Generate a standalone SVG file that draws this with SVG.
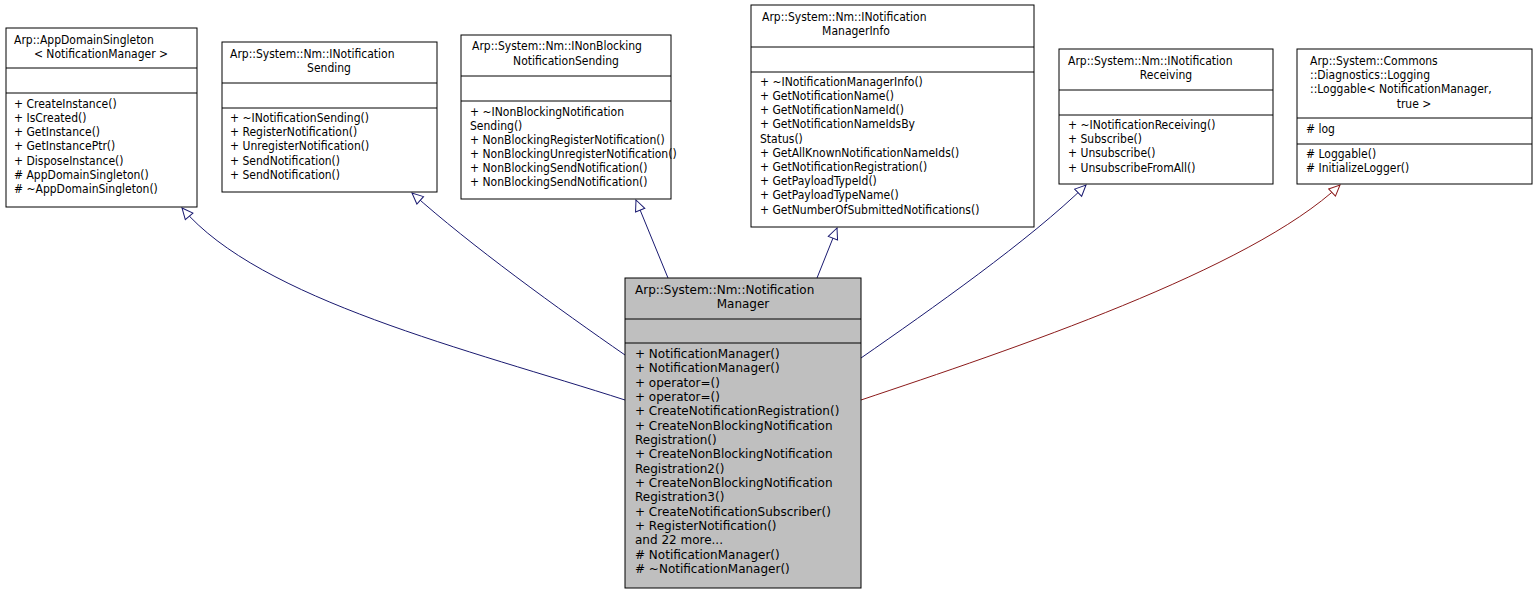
<svg xmlns="http://www.w3.org/2000/svg" width="1538" height="595" viewBox="0 0 1538 595">
<style>
text{font-family:"DejaVu Sans Condensed","DejaVu Sans",sans-serif;font-stretch:condensed;font-size:12px;fill:#000}
#main text{font-family:"DejaVu Sans",sans-serif;font-stretch:normal;font-size:12px}
.b{fill:#fff;stroke:#000;stroke-width:1}
.m{fill:#bfbfbf;stroke:#000;stroke-width:1}
.l{stroke:#000;stroke-width:1}
.c{text-anchor:middle}
.e{fill:none;stroke:#191970;stroke-width:1}
.r{fill:none;stroke:#8b1a1a;stroke-width:1}
</style>
<defs>
<marker id="ab" markerWidth="14" markerHeight="14" refX="12" refY="6" orient="auto" markerUnits="userSpaceOnUse"><path d="M1,1 L12,6 L1,11 Z" fill="#fff" stroke="#191970"/></marker>
<marker id="ar" markerWidth="14" markerHeight="14" refX="12" refY="6" orient="auto" markerUnits="userSpaceOnUse"><path d="M1,1 L12,6 L1,11 Z" fill="#fff" stroke="#8b1a1a"/></marker>
</defs>
<g id="connectors">
<path class="e" d="M625,400 C470,350 260,300 182,208" marker-end="url(#ab)"/>
<path class="e" d="M625,355 C560,310 470,245 412,193" marker-end="url(#ab)"/>
<path class="e" d="M668,278 L636,200" marker-end="url(#ab)"/>
<path class="e" d="M817,278 L837,228" marker-end="url(#ab)"/>
<path class="e" d="M861,358 C930,310 1030,240 1086,185" marker-end="url(#ab)"/>
<path class="r" d="M861,400 C1010,350 1250,270 1340,185" marker-end="url(#ar)"/>
</g>
<g id="n1">
<rect class="b" x="6" y="28" width="191" height="179"/>
<line class="l" x1="6" y1="68" x2="197" y2="68"/><line class="l" x1="6" y1="93" x2="197" y2="93"/>
<text x="14" y="44">Arp::AppDomainSingleton</text><text class="c" x="101" y="58">&lt; NotificationManager &gt;</text>
<text x="14" y="108">+ CreateInstance()</text><text x="14" y="122">+ IsCreated()</text><text x="14" y="136">+ GetInstance()</text><text x="14" y="150">+ GetInstancePtr()</text><text x="14" y="165">+ DisposeInstance()</text><text x="14" y="179"># AppDomainSingleton()</text><text x="14" y="193"># ~AppDomainSingleton()</text>
</g>
<g id="n2">
<rect class="b" x="222" y="42" width="215" height="150"/>
<line class="l" x1="222" y1="83" x2="437" y2="83"/><line class="l" x1="222" y1="108" x2="437" y2="108"/>
<text x="230" y="58">Arp::System::Nm::INotification</text><text class="c" x="329" y="72">Sending</text>
<text x="230" y="122">+ ~INotificationSending()</text><text x="230" y="136">+ RegisterNotification()</text><text x="230" y="150">+ UnregisterNotification()</text><text x="230" y="165">+ SendNotification()</text><text x="230" y="179">+ SendNotification()</text>
</g>
<g id="n3">
<rect class="b" x="461" y="35" width="210" height="164"/>
<line class="l" x1="461" y1="76" x2="671" y2="76"/><line class="l" x1="461" y1="101" x2="671" y2="101"/>
<text x="472" y="50">Arp::System::Nm::INonBlocking</text><text class="c" x="566" y="65">NotificationSending</text>
<text x="470" y="116">+ ~INonBlockingNotification</text><text x="470" y="130">Sending()</text><text x="470" y="144">+ NonBlockingRegisterNotification()</text><text x="470" y="158">+ NonBlockingUnregisterNotification()</text><text x="470" y="172">+ NonBlockingSendNotification()</text><text x="470" y="186">+ NonBlockingSendNotification()</text>
</g>
<g id="n4">
<rect class="b" x="751" y="5" width="283" height="222"/>
<line class="l" x1="751" y1="47" x2="1034" y2="47"/><line class="l" x1="751" y1="72" x2="1034" y2="72"/>
<text x="762" y="21">Arp::System::Nm::INotification</text><text class="c" x="856" y="35">ManagerInfo</text>
<text x="760" y="86">+ ~INotificationManagerInfo()</text><text x="760" y="100">+ GetNotificationName()</text><text x="760" y="114">+ GetNotificationNameId()</text><text x="760" y="128">+ GetNotificationNameIdsBy</text><text x="760" y="143">Status()</text><text x="760" y="157">+ GetAllKnownNotificationNameIds()</text><text x="760" y="171">+ GetNotificationRegistration()</text><text x="760" y="185">+ GetPayloadTypeId()</text><text x="760" y="199">+ GetPayloadTypeName()</text><text x="760" y="214">+ GetNumberOfSubmittedNotifications()</text>
</g>
<g id="n5">
<rect class="b" x="1059" y="49" width="214" height="135"/>
<line class="l" x1="1059" y1="90" x2="1273" y2="90"/><line class="l" x1="1059" y1="115" x2="1273" y2="115"/>
<text x="1068" y="65">Arp::System::Nm::INotification</text><text class="c" x="1166" y="79">Receiving</text>
<text x="1068" y="129">+ ~INotificationReceiving()</text><text x="1068" y="143">+ Subscribe()</text><text x="1068" y="157">+ Unsubscribe()</text><text x="1068" y="172">+ UnsubscribeFromAll()</text>
</g>
<g id="n6">
<rect class="b" x="1297" y="49" width="235" height="135"/>
<line class="l" x1="1297" y1="118" x2="1532" y2="118"/><line class="l" x1="1297" y1="144" x2="1532" y2="144"/>
<text x="1310" y="65">Arp::System::Commons</text><text x="1310" y="79">::Diagnostics::Logging</text><text x="1310" y="93">::Loggable&lt; NotificationManager,</text><text class="c" x="1414" y="108">true &gt;</text>
<text x="1306" y="133"># log</text>
<text x="1306" y="158"># Loggable()</text><text x="1306" y="172"># InitializeLogger()</text>
</g>
<g id="main">
<rect class="m" x="625" y="278" width="236" height="310"/>
<line class="l" x1="625" y1="319" x2="861" y2="319"/><line class="l" x1="625" y1="343" x2="861" y2="343"/>
<text x="635" y="294">Arp::System::Nm::Notification</text><text class="c" x="743" y="308">Manager</text>
<text x="635" y="358">+ NotificationManager()</text><text x="635" y="372">+ NotificationManager()</text><text x="635" y="387">+ operator=()</text><text x="635" y="401">+ operator=()</text><text x="635" y="415">+ CreateNotificationRegistration()</text><text x="635" y="430">+ CreateNonBlockingNotification</text><text x="635" y="444">Registration()</text><text x="635" y="458">+ CreateNonBlockingNotification</text><text x="635" y="473">Registration2()</text><text x="635" y="487">+ CreateNonBlockingNotification</text><text x="635" y="501">Registration3()</text><text x="635" y="516">+ CreateNotificationSubscriber()</text><text x="635" y="530">+ RegisterNotification()</text><text x="635" y="544">and 22 more...</text><text x="635" y="559"># NotificationManager()</text><text x="635" y="573"># ~NotificationManager()</text>
</g>
</svg>
